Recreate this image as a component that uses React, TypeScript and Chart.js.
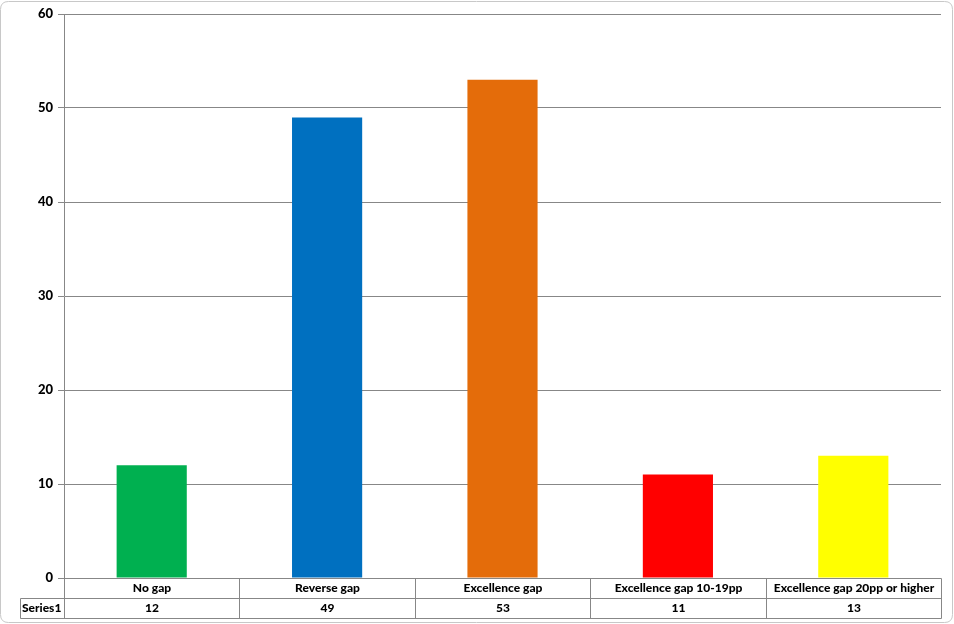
import React, { useEffect, useRef } from "react";
import { Chart, registerables } from "chart.js";

Chart.register(...registerables);

const categories = ["No gap", "Reverse gap", "Excellence gap", "Excellence gap 10-19pp", "Excellence gap 20pp or higher"];
const seriesName = "Series1";
const values = [12, 49, 53, 11, 13];
const barColors = ["#00b050", "#0070c0", "#e46c0a", "#ff0000", "#ffff00"];
const yTicks = [0, 10, 20, 30, 40, 50, 60];

const FONT = "Lato, 'Open Sans', sans-serif";
const LINE = "#878787";

const tablePlugin = {
  id: "dataTable",
  afterDraw(chart: any) {
    const ctx = chart.ctx as CanvasRenderingContext2D;
    const x = chart.scales.x;
    const area = chart.chartArea;
    const n = categories.length;
    const left = area.left;
    const right = area.right;
    const rowH = 20;
    const top = area.bottom;
    const labelLeft = 20;
    ctx.save();
    ctx.strokeStyle = LINE;
    ctx.lineWidth = 1;
    const bounds: number[] = [];
    for (let i = 0; i <= n; i++) {
      const px = i === 0 ? left : i === n ? right : (x.getPixelForValue(i - 1) + x.getPixelForValue(i)) / 2;
      bounds.push(Math.round(px) + 0.5);
    }
    const yTop = Math.round(top) + 0.5;
    const yMid = yTop + rowH;
    const yBot = yMid + rowH;
    ctx.beginPath();
    ctx.moveTo(bounds[0], yTop); ctx.lineTo(bounds[n], yTop);
    ctx.moveTo(labelLeft + 0.5, yMid); ctx.lineTo(bounds[n], yMid);
    ctx.moveTo(labelLeft + 0.5, yBot); ctx.lineTo(bounds[n], yBot);
    for (let i = 0; i <= n; i++) {
      ctx.moveTo(bounds[i], yTop); ctx.lineTo(bounds[i], yBot);
    }
    ctx.moveTo(labelLeft + 0.5, yMid); ctx.lineTo(labelLeft + 0.5, yBot);
    ctx.stroke();

    ctx.fillStyle = "#000";
    ctx.font = `900 12px ${FONT}`;
    ctx.textAlign = "center";
    ctx.textBaseline = "middle";
    for (let i = 0; i < n; i++) {
      const cx = (bounds[i] + bounds[i + 1]) / 2;
      ctx.fillText(categories[i], cx, yTop + rowH / 2);
      ctx.fillText(String(values[i]), cx, yMid + rowH / 2);
    }
    ctx.textAlign = "left";
    ctx.fillText(seriesName, labelLeft + 2, yMid + rowH / 2);

    ctx.strokeStyle = "#c8c8c8";
    ctx.beginPath();
    const r = 8;
    const bx = 0.5, by = 1.5, bw = chart.width - 2, bh = chart.height - 3;
    ctx.moveTo(bx + r, by);
    ctx.lineTo(bx + bw - r, by);
    ctx.quadraticCurveTo(bx + bw, by, bx + bw, by + r);
    ctx.lineTo(bx + bw, by + bh - r);
    ctx.quadraticCurveTo(bx + bw, by + bh, bx + bw - r, by + bh);
    ctx.lineTo(bx + r, by + bh);
    ctx.quadraticCurveTo(bx, by + bh, bx, by + bh - r);
    ctx.lineTo(bx, by + r);
    ctx.quadraticCurveTo(bx, by, bx + r, by);
    ctx.stroke();
    ctx.restore();
  },
};

export default function App() {
  const ref = useRef<HTMLCanvasElement | null>(null);
  useEffect(() => {
    document.body.style.margin = "0";
    const chart = new Chart(ref.current!, {
      type: "bar",
      data: {
        labels: categories,
        datasets: [
          {
            label: seriesName,
            data: values,
            backgroundColor: barColors,
            borderWidth: 0,
            categoryPercentage: 1,
            barPercentage: 0.4,
          },
        ],
      },
      options: {
        animation: false,
        responsive: false,
        maintainAspectRatio: false,
        layout: { padding: { left: 0, right: 13, top: 14, bottom: 46 } },
        plugins: { legend: { display: false }, tooltip: { enabled: false } },
        scales: {
          x: { display: false, grid: { display: false } },
          y: {
            min: 0,
            max: 60,
            afterBuildTicks: (s: any) => {
              s.ticks = yTicks.map((v) => ({ value: v }));
            },
            afterFit: (s: any) => {
              s.width = 64;
            },
            ticks: {
              color: "#000",
              font: { family: FONT, size: 13, weight: "900" },
              padding: 5,
            },
            grid: { color: LINE, tickLength: 6, drawTicks: true },
            border: { display: true, color: LINE },
          },
        },
      },
      plugins: [tablePlugin],
    });
    return () => chart.destroy();
  }, []);
  return (
    <div style={{ position: "absolute", left: 0, top: 0, width: 954, height: 624, background: "#fff" }}>
      <canvas ref={ref} width={954} height={624} style={{ width: 954, height: 624, display: "block" }} />
    </div>
  );
}
